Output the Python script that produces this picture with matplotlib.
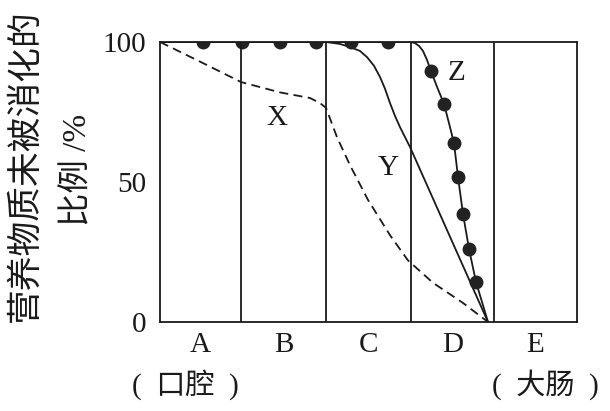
import matplotlib
matplotlib.use('Agg')
import matplotlib.pyplot as plt
import matplotlib.transforms as mtransforms

plt.rcParams['font.family'] = ['Liberation Serif', 'Noto Sans CJK SC', 'DejaVu Sans']

# 消化道各段边界（横轴单位与图中刻度对应）
bounds = [0, 81, 166, 251, 334, 417]
sections = ['A', 'B', 'C', 'D', 'E']
organ_labels = {0: '(  口腔  )', 4: '(  大肠  )'}

# 曲线 X（虚线）
x_x = [0, 40, 81, 120, 150, 160, 166, 177, 190, 208, 230, 248, 273, 303, 328]
x_y = [100, 93, 85.7, 82, 80, 78.2, 76.5, 66, 56, 43.6, 31, 22, 14, 6.8, 0]

# 曲线 Y（实线）
y_x = [0, 166, 180, 190, 200, 207, 214, 220, 225, 230, 235, 240, 250, 328]
y_y = [100, 100, 99.3, 98.2, 96.8, 94.6, 91.5, 87.5, 83.3, 78.2, 73.6, 69.6, 62.5, 0]

# 曲线 Z（带点实线）
z_x = [0, 251, 255, 259, 263, 267, 271, 277, 284, 289, 294, 298, 303, 309, 316, 328]
z_y = [100, 100, 99.6, 98.6, 96.8, 93.6, 89.6, 84, 77.9, 71, 63.9, 51.8, 38.6, 26.1, 14.3, 0]
dot_x = [43, 82, 120, 156, 191, 228, 271, 284, 294, 298, 303, 309, 316]
dot_y = [100, 100, 100, 100, 100, 100, 89.6, 77.9, 63.9, 51.8, 38.6, 26.1, 14.3]

labels = {'X': (117, 73), 'Y': (228, 55), 'Z': (297, 89)}

fig = plt.figure(figsize=(6.1, 4.11), dpi=100)
ax = fig.add_axes([160 / 610, 89 / 411, 417 / 610, 280 / 411])

ink = '#1a1a1a'
ax.plot(x_x, x_y, color=ink, lw=1.3, linestyle=(0, (5, 3)))
ax.plot(y_x, y_y, color=ink, lw=1.3)
ax.plot(z_x, z_y, color=ink, lw=1.3)
ax.plot(dot_x, dot_y, 'o', color='#222222', markersize=9, linestyle='none')

for b in bounds[1:-1]:
    ax.axvline(b, color=ink, lw=1.3)

for name, (lx, ly) in labels.items():
    ax.text(lx, ly, name, fontsize=21, ha='center', va='center', color=ink)

ax.set_xlim(bounds[0], bounds[-1])
ax.set_ylim(0, 100)
ax.set_xticks([])
ax.set_yticks([0, 50, 100])
ax.set_yticklabels(['0', '50', '100'], fontsize=21, color=ink)
ax.tick_params(axis='y', length=0, pad=10)
for s in ax.spines.values():
    s.set_color(ink)
    s.set_linewidth(1.3)

trans = mtransforms.blended_transform_factory(ax.transData, fig.transFigure)
for i, name in enumerate(sections):
    cx = (bounds[i] + bounds[i + 1]) / 2
    ax.text(cx, 1 - 345 / 411, name, transform=trans, fontsize=21,
            ha='center', va='center', color=ink)
    if i in organ_labels:
        ax.text(cx - 15 if i == 0 else cx + 10, 1 - 385 / 411, organ_labels[i],
                transform=trans, fontsize=21, ha='center', va='center',
                color=ink, clip_on=False)

fig.text(26 / 610, 1 - 166 / 411, '营养物质未被消化的', rotation=90,
         fontsize=25, ha='center', va='center', color=ink)
fig.text(78 / 610, 1 - 170 / 411, '比例 /%', rotation=90,
         fontsize=24, ha='center', va='center', color=ink)

fig.savefig('out.png', dpi=100)
